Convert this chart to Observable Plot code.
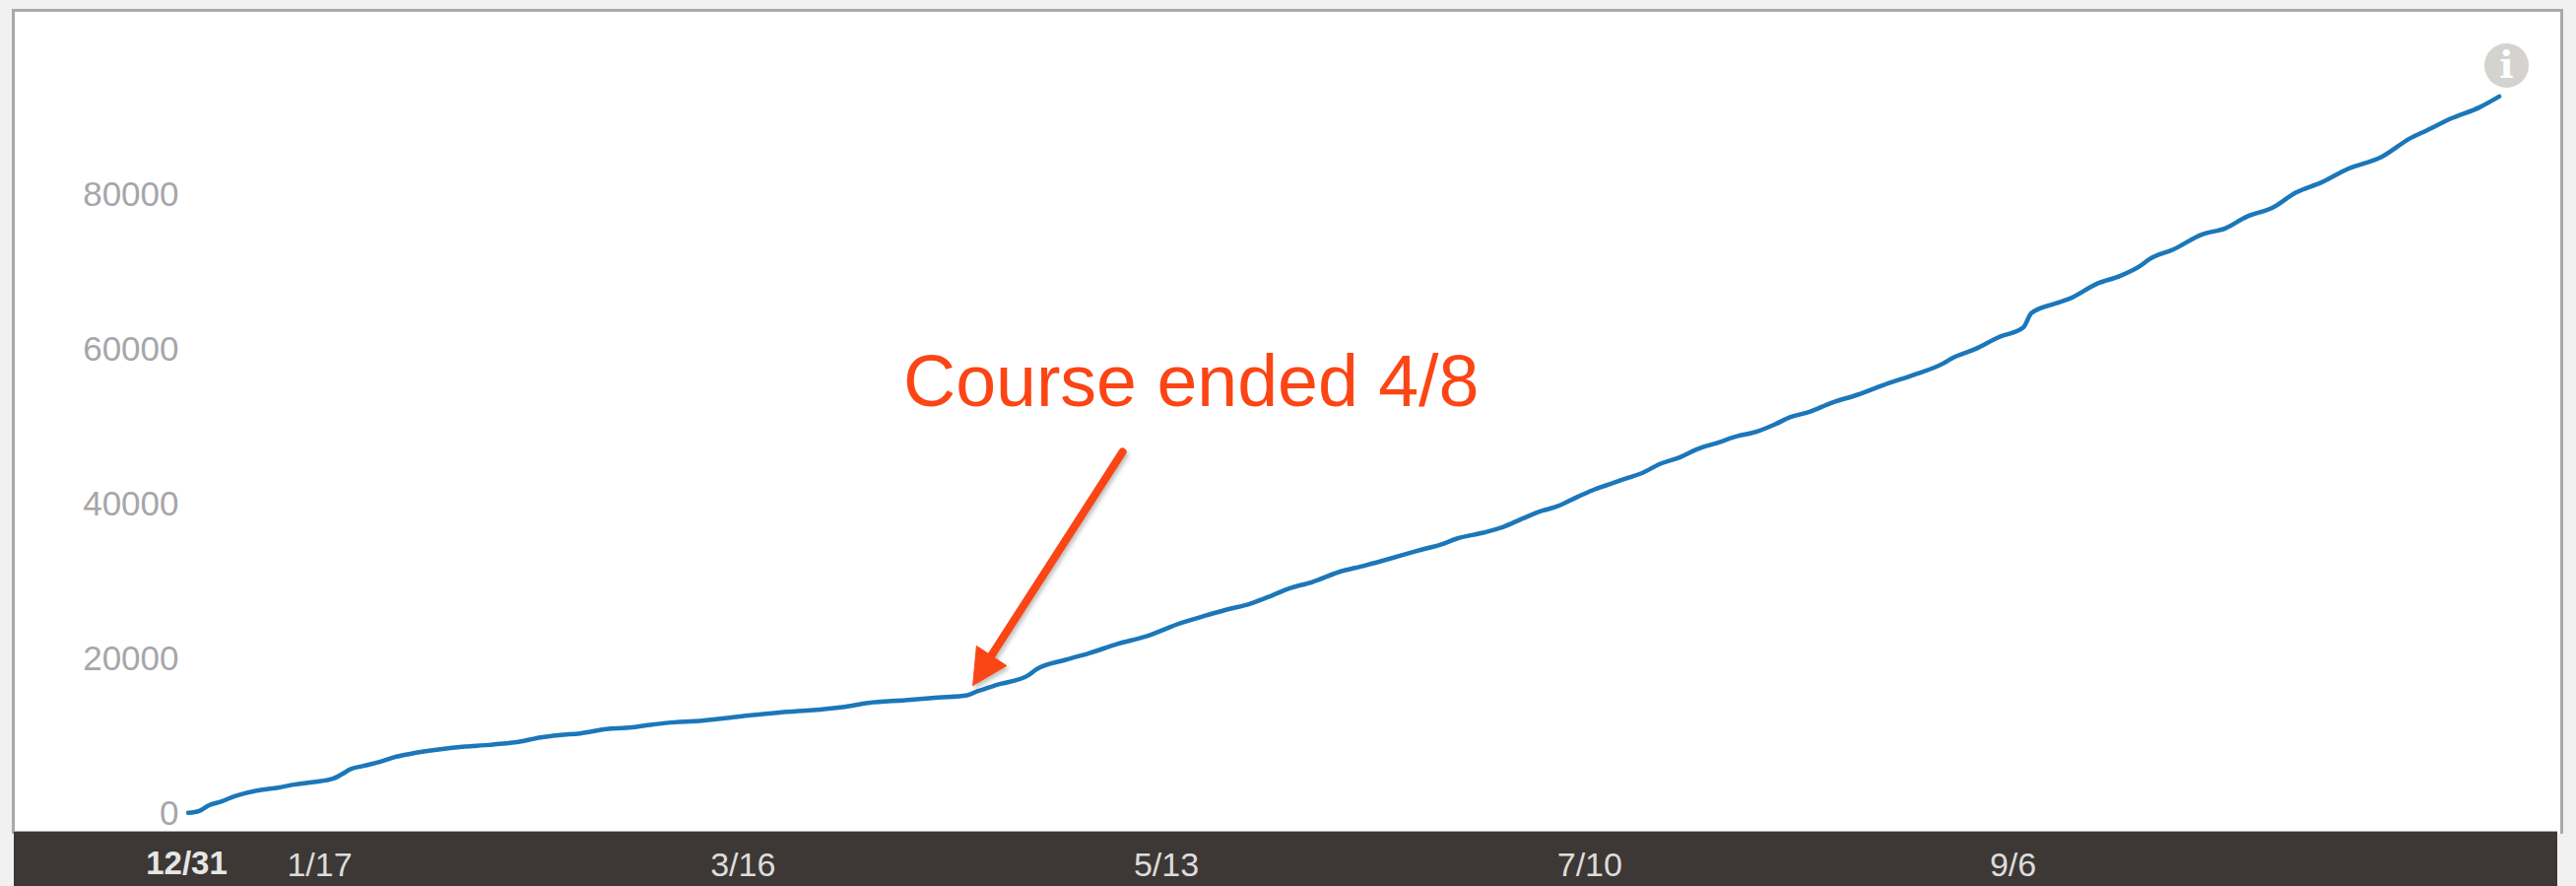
<!DOCTYPE html>
<html>
<head>
<meta charset="utf-8">
<script src="https://cdn.jsdelivr.net/npm/d3@7"></script>
<script src="https://cdn.jsdelivr.net/npm/@observablehq/plot@0.6"></script>
<style>
html,body{margin:0;padding:0;background:#f1f1f1;width:2615px;height:899px;overflow:hidden}
#panel{position:absolute;left:12px;top:9px;width:2584px;height:834px;background:#fff;border:3px solid #a9a9ac;border-bottom:none;box-sizing:content-box}
#bar{position:absolute;left:14px;top:843px;width:2582px;height:56px;background:#3d3835;border-top:1px solid #b0b0b0;box-sizing:border-box}
#chart{position:absolute;left:0;top:0}
.shadow{filter:drop-shadow(2px 3px 2px rgba(0,0,0,.25))}
</style>
</head>
<body>
<div id="panel"></div>
<div id="bar"></div>
<div id="chart"></div>
<script>
// days since 12/31 of the start year
const days = [-1,0.5,1.8,3.6,5,6.8,9,11.3,13.5,16.2,18.9,20.3,21,23,25.2,27.5,29.7,33.3,36.9,40.1,44.6,47.3,50,52.7,56.3,59,62.6,65.7,68.4,
  74.3,79.6,84.1,88.6,92.2,97.2,101.7,105.7,107.1,109.8,114.1,115.2,119.2,122.4,126.4,130,135,138.6,
  141.3,144.4,147.6,149.8,153,156.6,160.2,163.8,167.4,171,172.8,176.4,179.1,181.8,184.5,186.3,189.4,191.7,193.9,196.2,198,200.7,203.4,205.6,208.8,
  210.6,214.2,216.4,218.5,221,224.1,227.7,231.3,235.3,239.4,240.7,243.9,247,250.4,251.5,254.7,256.7,260.5,263.7,266.4,267.7,270.9,274.9,278.1,
  281,284.6,287.7,291.3,294.9,299.4,303.5,305.7,308.9,312.9,315.6];
const learners = [90,340,1060,1570,2120,2630,3060,3350,3740,4080,4540,5220,5650,6160,6670,7350,7770,8280,8660,8870,9340,9850,10150,10360,10910,11080,11510,11800,11930,
  12530,13040,13330,13760,14310,14650,14990,15290,15800,16640,17880,18640,19870,20720,21950,22840,24630,25650,
  26370,27090,28240,29090,29930,31210,32060,32990,33970,34900,35540,36300,37030,38130,39150,39620,40970,41910,42630,43390,43950,45220,46070,47050,48020,
  48620,49470,50320,51250,51890,53080,54140,55410,56680,58170,58890,60080,61570,62840,64670,65900,66540,68490,69510,70780,71670,72900,74860,75660,
  77150,78340,80250,81610,83350,84830,87340,88320,89800,91290,92690];
const yTicks = [0,20000,40000,60000,80000];
const xTickDays = [17,75,133,191,249];
const firstTickDay = [0];
const annotation = "Course ended 4/8";
const annotationAt = {day:136.4, value:55700};
const arrowShaft = {days:[127,109], values:[46750,20380]};
const arrowHead = {days:[106.5,107,111.1,106.5], values:[16560,21660,19110,16560]};
const infoAt = {day:316.6, value:96690};

const origin = Date.UTC(2014,11,31);
const toDate = d => new Date(origin + d*864e5);
const series = days.map((d,i)=>({date:toDate(d), value:learners[i]}));
const shaft = arrowShaft.days.map((d,i)=>({date:toDate(d), value:arrowShaft.values[i]}));
const head = arrowHead.days.map((d,i)=>({date:toDate(d), value:arrowHead.values[i]}));
const fmt = d3.utcFormat("%-m/%-d");
const font = "'Liberation Sans', Arial, sans-serif";

const chart = Plot.plot({
  width:2615, height:899,
  marginLeft:192, marginRight:78, marginTop:197, marginBottom:74,
  style:{background:"transparent", fontFamily:font, overflow:"visible"},
  x:{type:"utc", domain:[toDate(0),toDate(300)], range:[198,198+7.41*300]},
  y:{domain:[0,80000], range:[825,197]},
  marks:[
    Plot.axisY({ticks:yTicks, tickSize:0, tickPadding:11, tickFormat:d=>String(d), label:null, fontSize:35, fill:"#a6a6a9", color:"#a6a6a9"}),
    Plot.axisX({ticks:xTickDays.map(toDate), tickSize:0, tickPadding:39, tickFormat:fmt, label:null, fontSize:34, fill:"#dcdcdc", color:"#dcdcdc"}),
    Plot.text(firstTickDay,{x:toDate, frameAnchor:"bottom", text:d=>fmt(toDate(d)), dx:-9, dy:51, lineAnchor:"middle", fontSize:33, fontWeight:"bold", fill:"#e6e6e6"}),
    Plot.line(series,{x:"date", y:"value", stroke:"#1b77b9", strokeWidth:4.5, strokeLinejoin:"round", strokeLinecap:"round", curve:"monotone-x"}),
    Plot.line(shaft,{x:"date", y:"value", stroke:"#fb4515", strokeWidth:8, className:"shadow"}),
    Plot.line(head,{x:"date", y:"value", fill:"#fb4515", stroke:"#fb4515", strokeWidth:1, className:"shadow"}),
    Plot.text([annotation],{x:toDate(annotationAt.day), y:annotationAt.value, text:d=>d, fontSize:73.5, fill:"#fb4515", textAnchor:"middle", lineAnchor:"middle"}),
    Plot.dot([infoAt],{x:d=>toDate(d.day), y:"value", r:22.5, fill:"#d4d3d0", stroke:"none"}),
    Plot.text([infoAt],{x:d=>toDate(d.day), y:"value", text:()=>"i", fontSize:38, fontWeight:"bold", fontFamily:"'DejaVu Serif', serif", fill:"#fff", lineAnchor:"middle"})
  ]
});
document.getElementById("chart").appendChild(chart);
</script>
</body>
</html>
